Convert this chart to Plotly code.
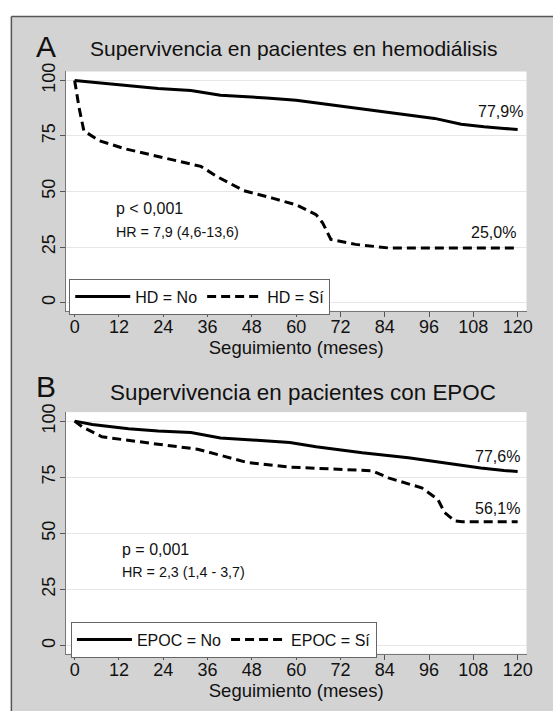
import plotly.graph_objects as go

# ---------------- data ----------------
months_ticks = [0, 12, 24, 36, 48, 60, 72, 84, 96, 108, 120]
surv_ticks = [0, 25, 50, 75, 100]

hd_no_t = [0, 4.8, 14.6, 22.6, 31.5, 39.5, 52, 60, 67.2, 79.7, 90.4, 97.5, 104.7, 110.9, 116.3, 120]
hd_no_s = [100, 99.2, 97.3, 96.3, 95.4, 93.3, 92.1, 91.1, 89.5, 86.9, 84.7, 82.9, 80.3, 79.1, 78.4, 77.9]

hd_si_t = [0, 1.2, 2.5, 6.6, 13.7, 22.6, 34.2, 38.7, 45.8, 53.8, 60, 65.4, 67.2, 69.4, 76.1, 85, 120]
hd_si_s = [100, 87.7, 77.3, 72.9, 69.2, 65.8, 61.3, 56.6, 50.4, 46.9, 44.0, 39.6, 35.8, 28.4, 26.2, 24.6, 24.6]

epoc_no_t = [0, 4.8, 14.6, 22.6, 31.5, 39.5, 49.4, 58.3, 65.4, 77.9, 90.4, 101.1, 110, 116.3, 120]
epoc_no_s = [100, 98.5, 96.6, 95.6, 94.9, 92.5, 91.5, 90.5, 88.6, 85.9, 83.7, 81.2, 79.1, 78.0, 77.6]

epoc_si_t = [0, 2.1, 7.4, 13.7, 22.6, 33.3, 40.5, 46.7, 58.3, 69.9, 80.6, 85, 94, 98.4, 100.2, 102.9, 105, 120]
epoc_si_s = [100, 97.4, 93.0, 91.5, 89.7, 87.5, 84.2, 81.6, 79.5, 78.6, 77.9, 74.7, 70.3, 65.1, 59.3, 55.6, 55.2, 55.2]

names_a = ["HD = No", "HD = Sí"]
names_b = ["EPOC = No", "EPOC = Sí"]
titles = ["Supervivencia en pacientes en hemodiálisis", "Supervivencia en pacientes con EPOC"]
end_labels_a = ["77,9%", "25,0%"]
end_labels_b = ["77,6%", "56,1%"]
stats_a = ["p < 0,001", "HR = 7,9 (4,6-13,6)"]
stats_b = ["p = 0,001", "HR = 2,3 (1,4 - 3,7)"]
axis_title = "Seguimiento (meses)"

# ---------------- figure ----------------
W, H = 553, 711
FONT = "Liberation Sans, Arial, Helvetica, sans-serif"
BG = "#d3d3d3"

def px(x):
    return x / W

def py(y):
    return 1 - y / H

fig = go.Figure()

solid = dict(color="black", width=3)
dashed = dict(color="black", width=3, dash="9px,5px")

fig.add_trace(go.Scatter(x=hd_no_t, y=hd_no_s, mode="lines", line=solid, name=names_a[0],
                         xaxis="x", yaxis="y", legend="legend"))
fig.add_trace(go.Scatter(x=hd_si_t, y=hd_si_s, mode="lines", line=dashed, name=names_a[1],
                         xaxis="x", yaxis="y", legend="legend"))
fig.add_trace(go.Scatter(x=epoc_no_t, y=epoc_no_s, mode="lines", line=solid, name=names_b[0],
                         xaxis="x2", yaxis="y2", legend="legend2"))
fig.add_trace(go.Scatter(x=epoc_si_t, y=epoc_si_s, mode="lines", line=dashed, name=names_b[1],
                         xaxis="x2", yaxis="y2", legend="legend2"))

xdom = [px(66.5), px(532.3)]
common_x = dict(
    range=[-2.4, 122.4], tickvals=months_ticks, ticks="outside", ticklen=5,
    tickcolor="#555", showline=True, linecolor="#777", linewidth=1,
    showgrid=False, zeroline=False, tickfont=dict(family=FONT, size=18, color="#111"),
    ticklabelstandoff=-5,
    title=dict(text=axis_title, font=dict(family=FONT, size=18.5, color="#111"), standoff=4),
    fixedrange=True,
)
common_y = dict(
    range=[-3.7, 104], tickvals=surv_ticks, ticks="outside", ticklen=5,
    tickcolor="#555", showline=True, linecolor="#777", linewidth=1,
    showgrid=True, gridcolor="#e6e6e6", gridwidth=1, zeroline=False,
    tickangle=-90, tickfont=dict(family=FONT, size=18, color="#111"),
    ticklabelstandoff=-2,
    fixedrange=True,
)

fig.update_layout(
    xaxis=dict(domain=xdom, anchor="y", **common_x),
    yaxis=dict(domain=[py(305.7), py(63.3)], anchor="x", **common_y),
    xaxis2=dict(domain=xdom, anchor="y2", **common_x),
    yaxis2=dict(domain=[py(653), py(408.3)], anchor="x2", **common_y),
)
fig.update_layout(yaxis2_range=[-3.6, 104])

leg_common = dict(orientation="h", xanchor="left", yanchor="top", bgcolor="white",
                  bordercolor="#666", borderwidth=1,
                  font=dict(family=FONT, size=16, color="#111"), itemwidth=55,
                  tracegroupgap=0)
fig.update_layout(
    legend=dict(x=px(70), y=py(273), **leg_common),
    legend2=dict(x=px(71.7), y=py(620.5), **leg_common),
)

ann = []
# panel letters and titles
ann.append(dict(text="A", x=px(34.5), y=py(37.5), xref="paper", yref="paper", xanchor="left",
                yanchor="middle", showarrow=False, font=dict(family=FONT, size=30, color="#111")))
ann.append(dict(text="B", x=px(34.5), y=py(382.5), xref="paper", yref="paper", xanchor="left",
                yanchor="middle", showarrow=False, font=dict(family=FONT, size=30, color="#111")))
ann.append(dict(text=titles[0], x=px(296.7), y=py(40), xref="paper", yref="paper", xanchor="center",
                yanchor="middle", showarrow=False, font=dict(family=FONT, size=21, color="#111")))
ann.append(dict(text=titles[1], x=px(306), y=py(388), xref="paper", yref="paper", xanchor="center",
                yanchor="middle", showarrow=False, font=dict(family=FONT, size=22.4, color="#111")))
# end-of-follow-up labels
ann.append(dict(text=end_labels_a[0], x=121.9, y=86.0, xref="x", yref="y", xanchor="right",
                yanchor="middle", showarrow=False, font=dict(family=FONT, size=16, color="#111")))
ann.append(dict(text=end_labels_a[1], x=120.1, y=31.4, xref="x", yref="y", xanchor="right",
                yanchor="middle", showarrow=False, font=dict(family=FONT, size=16, color="#111")))
ann.append(dict(text=end_labels_b[0], x=121.3, y=84.3, xref="x2", yref="y2", xanchor="right",
                yanchor="middle", showarrow=False, font=dict(family=FONT, size=16, color="#111")))
ann.append(dict(text=end_labels_b[1], x=121.1, y=61.3, xref="x2", yref="y2", xanchor="right",
                yanchor="middle", showarrow=False, font=dict(family=FONT, size=16, color="#111")))
# statistics
ann.append(dict(text=stats_a[0], x=10.6, y=42.4, xref="x", yref="y", xanchor="left",
                yanchor="middle", showarrow=False, font=dict(family=FONT, size=16, color="#111")))
ann.append(dict(text=stats_a[1], x=10.6, y=31.8, xref="x", yref="y", xanchor="left",
                yanchor="middle", showarrow=False, font=dict(family=FONT, size=14.3, color="#111")))
ann.append(dict(text=stats_b[0], x=12.4, y=42.7, xref="x2", yref="y2", xanchor="left",
                yanchor="middle", showarrow=False, font=dict(family=FONT, size=16, color="#111")))
ann.append(dict(text=stats_b[1], x=12.4, y=32.6, xref="x2", yref="y2", xanchor="left",
                yanchor="middle", showarrow=False, font=dict(family=FONT, size=14.3, color="#111")))

shapes = [
    # white strips outside the grey frame
    dict(type="rect", xref="paper", yref="paper", x0=0, x1=px(11.5), y0=-0.05, y1=1.05,
         fillcolor="white", line=dict(width=0), layer="below"),
    dict(type="rect", xref="paper", yref="paper", x0=0, x1=1.05, y0=py(7.5), y1=1.05,
         fillcolor="white", line=dict(width=0), layer="below"),
    # frame border
    dict(type="line", xref="paper", yref="paper", x0=px(11.5), x1=px(11.5), y0=-0.05, y1=py(7.5),
         line=dict(color="#555", width=1.5), layer="below"),
    dict(type="line", xref="paper", yref="paper", x0=px(11.5), x1=1.05, y0=py(7.5), y1=py(7.5),
         line=dict(color="#555", width=1.5), layer="below"),
]

fig.update_layout(
    width=W, height=H, autosize=False,
    margin=dict(l=0, r=0, t=0, b=0),
    paper_bgcolor=BG, plot_bgcolor="white",
    annotations=ann, shapes=shapes,
    font=dict(family=FONT, color="#111"),
)

fig.write_html(
    "out.html",
    config={"displayModeBar": False},
    post_script="document.body.style.margin='0';document.body.style.overflow='hidden';",
)
